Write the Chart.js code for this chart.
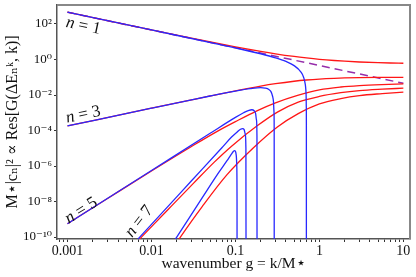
<!DOCTYPE html>
<html><head><meta charset="utf-8">
<script src="https://cdn.jsdelivr.net/npm/chart.js@4.4.1/dist/chart.umd.min.js"></script>
<style>html,body{margin:0;padding:0;background:#fff;}canvas{display:block;}</style>
</head><body>
<canvas id="c" width="416" height="277"></canvas>
<script>
// ---- data (g = wavenumber, y = M*|c_n|^2) ----
const dashedG = [0.001, 0.1, 10];
const dashedY = [460, 4.6, 0.046];

const red1G = [0.001, 0.01, 0.03, 0.1, 0.2, 0.3, 0.5, 0.7, 1, 1.5, 2, 3, 5, 7, 10];
const red1Y = [461, 46.6, 15.9, 5.17, 2.87, 2.10, 1.49, 1.23, 1.03, 0.877, 0.80, 0.723, 0.662, 0.636, 0.616];
const blue1G = [0.001, 0.01, 0.1, 0.2, 0.3, 0.4, 0.5, 0.6, 0.65, 0.68, 0.69, 0.695, 0.699, 0.6999, 0.7];
const blue1Y = [460, 46, 4.51, 2.11, 1.25, 0.775, 0.451, 0.203, 0.0975, 0.0381, 0.0189, 0.00945, 0.00188, 0.00019, 1e-14];

const red3G = [0.001, 0.01, 0.03, 0.05, 0.1, 0.2, 0.3, 0.5, 0.7, 1, 1.5, 2, 3, 5, 10];
const red3Y = [1.8e-4, 1.8e-3, 5.35e-3, 8.84e-3, 0.0171, 0.0316, 0.0432, 0.0596, 0.070, 0.0794, 0.0873, 0.0913, 0.095, 0.0975, 0.099];
const blue3G = [0.001, 0.01, 0.03, 0.05, 0.1, 0.15, 0.2, 0.226, 0.25, 0.265, 0.277, 0.284, 0.288, 0.2895, 0.29];
const blue3Y = [1.8e-4, 1.8e-3, 5.35e-3, 8.8e-3, 0.0166, 0.0228, 0.0262, 0.0245, 0.0205, 0.0155, 0.0085, 0.0042, 0.0011, 1e-4, 1e-14];

const red5G = [0.001, 0.003, 0.01, 0.03, 0.06, 0.1, 0.18, 0.3, 0.55, 1, 1.8, 3, 5.5, 10];
const red5Y = [5.62e-10, 1.48e-8, 5.25e-7, 1.26e-5, 8.7e-5, 3.16e-4, 1.29e-3, 3.63e-3, 9.55e-3, 0.0195, 0.0282, 0.0339, 0.0389, 0.0427];
const blue5G = [0.001, 0.01, 0.05, 0.1, 0.125, 0.145, 0.157, 0.167, 0.174, 0.178, 0.1805, 0.181];
const blue5Y = [5.6e-10, 5.6e-7, 7.0e-5, 5.5e-4, 1.0e-3, 1.38e-3, 1.48e-3, 1.3e-3, 9e-4, 4e-4, 5e-5, 1e-14];

const red7G = [0.005, 0.0077, 0.016, 0.032, 0.056, 0.09, 0.18, 0.32, 0.56, 1, 1.8, 3, 5.6, 10];
const red7Y = [1.26e-11, 1.05e-10, 3.8e-9, 1.12e-7, 1.66e-6, 1.32e-5, 1.78e-4, 1.12e-3, 3.98e-3, 8.3e-3, 0.0135, 0.0178, 0.0214, 0.0243];
const blue7G = [0.006, 0.01, 0.03, 0.069, 0.09, 0.105, 0.115, 0.122, 0.127, 0.131, 0.1333, 0.134];
const blue7Y = [3.7e-11, 5.2e-10, 1.48e-7, 1.07e-5, 4.27e-5, 8.3e-5, 1.17e-4, 1.29e-4, 1.12e-4, 6.3e-5, 1e-5, 1e-14];

const red9G = [0.016, 0.022, 0.04, 0.079, 0.164, 0.316, 0.56, 1, 1.8, 3, 5.6, 10];
const red9Y = [1e-11, 9.55e-11, 5.0e-9, 3.16e-7, 1.07e-5, 1.58e-4, 8.9e-4, 3.16e-3, 6.3e-3, 9.3e-3, 0.012, 0.0145];
const blue9G = [0.0141, 0.02, 0.0398, 0.0631, 0.0794, 0.0891, 0.0944, 0.0973, 0.1, 0.1023, 0.1038, 0.1045, 0.1047];
const blue9Y = [7.9e-12, 1e-10, 1.5e-8, 4.2e-7, 2.0e-6, 4.5e-6, 6.6e-6, 7.4e-6, 6.8e-6, 4e-6, 1e-6, 1e-8, 1e-14];

// ---- tick labels ----
const xTickValues = [0.001, 0.01, 0.1, 1, 10];
const xTickLabels = ['0.001', '0.01', '0.1', '1', '10'];
const yTickValues = [1e-10, 1e-8, 1e-6, 1e-4, 1e-2, 1, 1e2];
const yTickLabels = ['10⁻¹⁰', '10⁻⁸', '10⁻⁶', '10⁻⁴', '10⁻²', '10⁰', '10²'];

// ---- curve annotations (anchor in data coords) ----
const curveLabelText = ['1', '3', '5', '7'];
const curveLabelG = [0.00154, 0.00154, 0.00146, 0.00714];
const curveLabelY = [77, 7.8e-4, 3.1e-9, 7.6e-10];

// ---- styling ----
const curveLabelAngle = [12, -12, -32, -52];
const RED = 'rgb(255,22,22)', BLUE = 'rgb(40,40,255)', PURPLE = 'rgb(150,45,170)';
const SERIF = '"Liberation Serif", "DejaVu Serif", serif';

function pts(g, y) { return g.map((x, i) => ({x: x, y: y[i]})); }
function ds(label, g, y, color, extra) {
  return Object.assign({
    label: label, data: pts(g, y), borderColor: color, backgroundColor: color,
    borderWidth: 1.3, pointRadius: 0, fill: false, cubicInterpolationMode: 'monotone'
  }, extra || {});
}

const datasets = [
  ds('n=1 exact', blue1G, blue1Y, BLUE),
  ds('n=3 exact', blue3G, blue3Y, BLUE),
  ds('n=5 exact', blue5G, blue5Y, BLUE),
  ds('n=7 exact', blue7G, blue7Y, BLUE),
  ds('n=9 exact', blue9G, blue9Y, BLUE),
  ds('n=1', red1G, red1Y, RED),
  ds('n=3', red3G, red3Y, RED),
  ds('n=5', red5G, red5Y, RED),
  ds('n=7', red7G, red7Y, RED),
  ds('n=9', red9G, red9Y, RED),
  ds('1/g', dashedG, dashedY, PURPLE, {borderDash: [8, 5], borderWidth: 1.5, cubicInterpolationMode: 'default', tension: 0})
];

function sameVal(a, b) { return Math.abs(Math.log10(a) - Math.log10(b)) < 1e-6; }

const framePlugin = {
  id: 'frame',
  afterDraw(chart) {
    const {ctx, chartArea: a} = chart;
    ctx.save();
    ctx.strokeStyle = '#888';
    ctx.lineWidth = 2;
    ctx.beginPath();
    ctx.moveTo(a.left, a.top);
    ctx.lineTo(a.right, a.top);
    ctx.lineTo(a.right, a.bottom);
    ctx.stroke();
    ctx.restore();
  }
};

const labelPlugin = {
  id: 'nlabels',
  afterDatasetsDraw(chart) {
    const {ctx, scales} = chart;
    for (let i = 0; i < curveLabelText.length; i++) {
      const px = scales.x.getPixelForValue(curveLabelG[i]);
      const py = scales.y.getPixelForValue(curveLabelY[i]);
      ctx.save();
      ctx.translate(px, py);
      ctx.rotate(curveLabelAngle[i] * Math.PI / 180);
      const it = 'italic 17px ' + SERIF, rm = '17px ' + SERIF;
      const rest = ' = ' + curveLabelText[i];
      ctx.font = it; const w1 = ctx.measureText('n').width;
      ctx.font = rm; const w2 = ctx.measureText(rest).width;
      const sx = -(w1 + w2) / 2;
      ctx.fillStyle = '#111';
      ctx.textBaseline = 'middle';
      ctx.font = it; ctx.fillText('n', sx, 0);
      ctx.font = rm; ctx.fillText(rest, sx + w1, 0);
      ctx.restore();
    }
  }
};

new Chart(document.getElementById('c'), {
  type: 'line',
  data: {datasets: datasets},
  plugins: [framePlugin, labelPlugin],
  options: {
    responsive: false,
    animation: false,
    devicePixelRatio: 1,
    events: [],
    layout: {padding: {top: 5, right: 6, left: 0, bottom: 0}},
    plugins: {legend: {display: false}, tooltip: {enabled: false}},
    scales: {
      x: {
        type: 'logarithmic',
        min: 0.00075, max: 12,
        afterBuildTicks(scale) {
          const t = [];
          for (let e = -4; e <= 1; e++) {
            for (let m = 1; m <= 9; m++) {
              const v = m * Math.pow(10, e);
              if (v >= scale.min && v <= scale.max) t.push({value: v});
            }
          }
          scale.ticks = t;
        },
        afterFit(scale) { scale.height = 38; scale.paddingLeft = 0; scale.paddingRight = 0; },
        ticks: {
          autoSkip: false, maxRotation: 0, padding: 1, color: '#111',
          font: {family: SERIF, size: 14},
          callback(v) {
            const i = xTickValues.findIndex(t => sameVal(t, v));
            return i >= 0 ? xTickLabels[i] : '';
          }
        },
        grid: {drawOnChartArea: false, drawTicks: true, tickLength: 3, color: '#333'},
        border: {display: true, color: '#555', width: 1.5},
        title: {
          display: true, text: 'wavenumber g = k/M⋆', color: '#111',
          font: {family: SERIF, size: 15.5, lineHeight: 1.2},
          padding: {top: 0, bottom: 4}
        }
      },
      y: {
        type: 'logarithmic',
        min: 7.76e-11, max: 1175,
        afterBuildTicks(scale) { scale.ticks = yTickValues.map(v => ({value: v})); },
        afterFit(scale) { scale.width = 57; scale.paddingTop = 0; scale.paddingBottom = 0; },
        ticks: {
          autoSkip: false, padding: 2, color: '#111',
          font: {family: SERIF, size: 13},
          callback(v) {
            const i = yTickValues.findIndex(t => sameVal(t, v));
            return i >= 0 ? yTickLabels[i] : '';
          }
        },
        grid: {drawOnChartArea: false, drawTicks: true, tickLength: 3, color: '#333'},
        border: {display: true, color: '#555', width: 1.5},
        title: {
          display: true, text: 'M⋆|cₙ|² ∝ Res[G(ΔEₙᵏ, k)]', color: '#111',
          font: {family: SERIF, size: 16, lineHeight: 1.2},
          padding: {top: 3, bottom: 0}
        }
      }
    }
  }
});
</script>
</body></html>
